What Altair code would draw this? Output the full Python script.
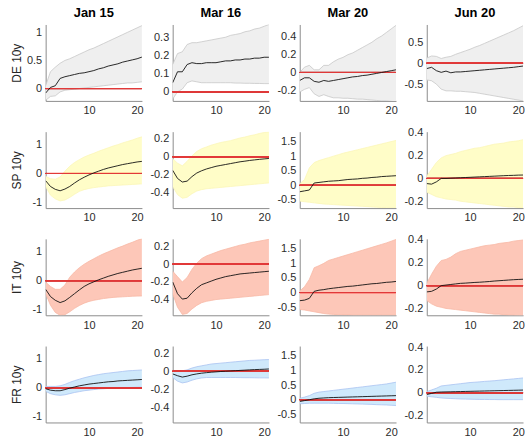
import altair as alt
import pandas as pd

H = list(range(1, 22))
DATES = ["Jan 15", "Mar 16", "Mar 20", "Jun 20"]
COUNTRIES = ["DE 10y", "SP 10y", "IT 10y", "FR 10y"]

# ---------------- DE 10y ----------------
DE_JAN15_MID = [-0.08, 0.02, 0.05, 0.18, 0.21, 0.23, 0.25, 0.27, 0.28, 0.30, 0.32, 0.35, 0.37, 0.40, 0.42, 0.44, 0.47, 0.49, 0.51, 0.53, 0.56]
DE_JAN15_HI = [0.05, 0.30, 0.38, 0.45, 0.50, 0.53, 0.57, 0.61, 0.65, 0.69, 0.72, 0.76, 0.80, 0.84, 0.88, 0.92, 0.96, 1.00, 1.04, 1.08, 1.12]
DE_JAN15_LO = [-0.21, -0.14, -0.13, -0.06, -0.03, -0.02, -0.01, 0.0, 0.01, 0.02, 0.03, 0.04, 0.05, 0.06, 0.07, 0.08, 0.09, 0.10, 0.10, 0.11, 0.12]

DE_MAR16_MID = [0.05, 0.11, 0.11, 0.15, 0.16, 0.155, 0.155, 0.16, 0.16, 0.16, 0.165, 0.17, 0.17, 0.175, 0.175, 0.18, 0.18, 0.185, 0.185, 0.19, 0.19]
DE_MAR16_HI = [0.15, 0.21, 0.22, 0.26, 0.27, 0.27, 0.275, 0.28, 0.285, 0.29, 0.295, 0.30, 0.31, 0.315, 0.32, 0.33, 0.335, 0.345, 0.35, 0.36, 0.37]
DE_MAR16_LO = [-0.04, 0.0, 0.015, 0.05, 0.06, 0.055, 0.05, 0.05, 0.05, 0.05, 0.05, 0.05, 0.05, 0.048, 0.048, 0.047, 0.047, 0.046, 0.046, 0.045, 0.045]

DE_MAR20_MID = [-0.09, -0.06, -0.06, -0.10, -0.11, -0.09, -0.10, -0.09, -0.08, -0.07, -0.06, -0.05, -0.045, -0.035, -0.03, -0.02, -0.01, 0.0, 0.01, 0.02, 0.03]
DE_MAR20_HI = [0.0, 0.06, 0.08, 0.03, 0.03, 0.08, 0.08, 0.12, 0.15, 0.17, 0.20, 0.22, 0.25, 0.28, 0.31, 0.34, 0.38, 0.41, 0.45, 0.49, 0.53]
DE_MAR20_LO = [-0.22, -0.19, -0.17, -0.24, -0.27, -0.25, -0.27, -0.285, -0.285, -0.29, -0.29, -0.295, -0.30, -0.30, -0.305, -0.31, -0.315, -0.32, -0.32, -0.325, -0.33]

DE_JUN20_MID = [-0.13, -0.10, -0.18, -0.22, -0.19, -0.23, -0.21, -0.21, -0.20, -0.19, -0.18, -0.17, -0.16, -0.15, -0.14, -0.13, -0.12, -0.11, -0.10, -0.085, -0.07]
DE_JUN20_HI = [0.12, 0.17, 0.16, 0.11, 0.14, 0.16, 0.21, 0.25, 0.29, 0.33, 0.38, 0.42, 0.47, 0.52, 0.57, 0.62, 0.67, 0.72, 0.77, 0.83, 0.89]
DE_JUN20_LO = [-0.40, -0.42, -0.50, -0.62, -0.66, -0.66, -0.67, -0.67, -0.68, -0.69, -0.70, -0.72, -0.74, -0.76, -0.78, -0.80, -0.82, -0.84, -0.86, -0.88, -0.90]

# ---------------- SP 10y ----------------
SP_JAN15_MID = [-0.25, -0.45, -0.55, -0.60, -0.54, -0.45, -0.33, -0.22, -0.13, -0.05, 0.02, 0.08, 0.14, 0.19, 0.23, 0.27, 0.31, 0.34, 0.37, 0.40, 0.42]
SP_JAN15_HI = [-0.10, -0.18, -0.20, -0.12, 0.08, 0.25, 0.38, 0.48, 0.57, 0.64, 0.70, 0.77, 0.83, 0.89, 0.95, 1.00, 1.06, 1.11, 1.16, 1.22, 1.27]
SP_JAN15_LO = [-0.45, -0.75, -0.88, -0.95, -0.92, -0.83, -0.72, -0.62, -0.56, -0.52, -0.49, -0.47, -0.45, -0.43, -0.42, -0.41, -0.40, -0.39, -0.38, -0.37, -0.36]

SP_MAR16_MID = [-0.15, -0.24, -0.28, -0.27, -0.22, -0.18, -0.155, -0.135, -0.12, -0.105, -0.095, -0.085, -0.075, -0.065, -0.055, -0.048, -0.04, -0.034, -0.028, -0.023, -0.018]
SP_MAR16_HI = [-0.02, -0.07, -0.10, -0.05, 0.01, 0.06, 0.09, 0.11, 0.13, 0.145, 0.16, 0.17, 0.18, 0.195, 0.21, 0.22, 0.235, 0.245, 0.26, 0.27, 0.28]
SP_MAR16_LO = [-0.33, -0.42, -0.46, -0.45, -0.41, -0.38, -0.365, -0.355, -0.35, -0.345, -0.34, -0.335, -0.33, -0.325, -0.32, -0.315, -0.31, -0.305, -0.30, -0.295, -0.29]

SP_MAR20_MID = [-0.22, -0.19, -0.16, 0.08, 0.10, 0.12, 0.14, 0.15, 0.16, 0.18, 0.20, 0.21, 0.22, 0.24, 0.25, 0.27, 0.28, 0.30, 0.31, 0.32, 0.33]
SP_MAR20_HI = [0.05, 0.20, 0.60, 0.78, 0.85, 0.90, 0.95, 1.00, 1.05, 1.10, 1.14, 1.18, 1.22, 1.26, 1.30, 1.34, 1.38, 1.42, 1.46, 1.50, 1.54]
SP_MAR20_LO = [-0.54, -0.56, -0.58, -0.60, -0.62, -0.64, -0.65, -0.66, -0.67, -0.68, -0.69, -0.70, -0.71, -0.72, -0.73, -0.74, -0.75, -0.76, -0.76, -0.77, -0.78]

SP_JUN20_MID = [-0.045, -0.05, -0.03, 0.0, 0.0, 0.002, 0.004, 0.006, 0.008, 0.01, 0.012, 0.014, 0.016, 0.018, 0.02, 0.022, 0.024, 0.026, 0.027, 0.029, 0.03]
SP_JUN20_HI = [0.02, 0.08, 0.14, 0.18, 0.20, 0.21, 0.22, 0.235, 0.245, 0.255, 0.265, 0.27, 0.28, 0.29, 0.30, 0.305, 0.31, 0.32, 0.325, 0.33, 0.34]
SP_JUN20_LO = [-0.12, -0.14, -0.16, -0.17, -0.18, -0.185, -0.19, -0.20, -0.205, -0.21, -0.215, -0.22, -0.225, -0.23, -0.235, -0.24, -0.245, -0.25, -0.25, -0.255, -0.26]

# ---------------- IT 10y ----------------
IT_JAN15_MID = [-0.30, -0.55, -0.68, -0.76, -0.70, -0.58, -0.45, -0.32, -0.20, -0.11, -0.04, 0.03, 0.09, 0.15, 0.20, 0.25, 0.29, 0.33, 0.37, 0.40, 0.43]
IT_JAN15_HI = [-0.05, -0.20, -0.30, -0.30, -0.15, 0.12, 0.30, 0.45, 0.57, 0.67, 0.76, 0.85, 0.93, 1.00, 1.07, 1.14, 1.20, 1.27, 1.33, 1.40, 1.46]
IT_JAN15_LO = [-0.45, -0.85, -1.10, -1.20, -1.18, -1.08, -0.96, -0.86, -0.78, -0.72, -0.68, -0.65, -0.62, -0.60, -0.58, -0.57, -0.56, -0.55, -0.54, -0.535, -0.53]

IT_MAR16_MID = [-0.20, -0.33, -0.39, -0.38, -0.32, -0.27, -0.23, -0.21, -0.19, -0.17, -0.155, -0.14, -0.13, -0.12, -0.11, -0.105, -0.10, -0.095, -0.09, -0.085, -0.08]
IT_MAR16_HI = [-0.08, -0.14, -0.20, -0.15, -0.06, 0.01, 0.06, 0.09, 0.11, 0.13, 0.15, 0.165, 0.18, 0.195, 0.21, 0.22, 0.235, 0.245, 0.255, 0.265, 0.275]
IT_MAR16_LO = [-0.33, -0.48, -0.56, -0.55, -0.50, -0.46, -0.43, -0.415, -0.405, -0.395, -0.39, -0.385, -0.38, -0.375, -0.37, -0.365, -0.36, -0.355, -0.35, -0.345, -0.34]

IT_MAR20_MID = [-0.28, -0.26, -0.20, 0.04, 0.08, 0.10, 0.13, 0.15, 0.17, 0.19, 0.21, 0.22, 0.24, 0.26, 0.28, 0.30, 0.31, 0.33, 0.35, 0.36, 0.38]
IT_MAR20_HI = [0.05, 0.20, 0.45, 0.85, 0.92, 1.00, 1.10, 1.15, 1.20, 1.25, 1.30, 1.35, 1.40, 1.45, 1.50, 1.55, 1.60, 1.65, 1.70, 1.76, 1.82]
IT_MAR20_LO = [-0.58, -0.60, -0.63, -0.66, -0.69, -0.72, -0.74, -0.75, -0.76, -0.77, -0.77, -0.78, -0.78, -0.78, -0.78, -0.78, -0.78, -0.78, -0.78, -0.78, -0.78]

IT_JUN20_MID = [-0.055, -0.05, -0.03, 0.0, 0.005, 0.01, 0.015, 0.02, 0.022, 0.025, 0.028, 0.03, 0.033, 0.036, 0.04, 0.043, 0.046, 0.049, 0.052, 0.054, 0.056]
IT_JUN20_HI = [0.02, 0.10, 0.17, 0.22, 0.23, 0.25, 0.28, 0.30, 0.31, 0.32, 0.33, 0.34, 0.35, 0.355, 0.36, 0.37, 0.375, 0.38, 0.39, 0.395, 0.40]
IT_JUN20_LO = [-0.13, -0.16, -0.18, -0.19, -0.20, -0.205, -0.21, -0.215, -0.22, -0.225, -0.23, -0.235, -0.24, -0.245, -0.25, -0.25, -0.255, -0.26, -0.26, -0.265, -0.27]

# ---------------- FR 10y ----------------
FR_JAN15_MID = [-0.03, -0.08, -0.10, -0.10, -0.06, -0.01, 0.03, 0.07, 0.10, 0.13, 0.15, 0.17, 0.19, 0.21, 0.22, 0.24, 0.25, 0.26, 0.27, 0.28, 0.29]
FR_JAN15_HI = [0.05, 0.05, 0.05, 0.07, 0.12, 0.19, 0.25, 0.30, 0.35, 0.39, 0.43, 0.46, 0.49, 0.51, 0.53, 0.55, 0.57, 0.59, 0.60, 0.61, 0.62]
FR_JAN15_LO = [-0.12, -0.20, -0.24, -0.26, -0.24, -0.20, -0.16, -0.13, -0.10, -0.08, -0.06, -0.04, -0.03, -0.02, -0.01, 0.0, 0.005, 0.01, 0.015, 0.02, 0.02]

FR_MAR16_MID = [-0.03, -0.05, -0.065, -0.055, -0.04, -0.03, -0.022, -0.016, -0.011, -0.007, -0.003, 0.0, 0.003, 0.006, 0.009, 0.012, 0.015, 0.018, 0.02, 0.022, 0.025]
FR_MAR16_HI = [0.005, 0.005, 0.005, 0.015, 0.035, 0.05, 0.06, 0.07, 0.08, 0.085, 0.09, 0.095, 0.10, 0.105, 0.11, 0.115, 0.12, 0.122, 0.125, 0.128, 0.13]
FR_MAR16_LO = [-0.07, -0.11, -0.13, -0.12, -0.10, -0.085, -0.075, -0.07, -0.07, -0.07, -0.07, -0.07, -0.07, -0.07, -0.071, -0.072, -0.072, -0.073, -0.074, -0.074, -0.075]

FR_MAR20_MID = [-0.06, -0.03, 0.0, 0.03, 0.05, 0.06, 0.07, 0.075, 0.08, 0.085, 0.09, 0.095, 0.10, 0.105, 0.11, 0.115, 0.12, 0.125, 0.13, 0.135, 0.14]
FR_MAR20_HI = [0.05, 0.09, 0.14, 0.22, 0.26, 0.28, 0.30, 0.32, 0.34, 0.36, 0.38, 0.40, 0.42, 0.44, 0.46, 0.48, 0.50, 0.52, 0.54, 0.57, 0.60]
FR_MAR20_LO = [-0.14, -0.13, -0.12, -0.12, -0.12, -0.12, -0.12, -0.125, -0.13, -0.13, -0.135, -0.14, -0.145, -0.15, -0.155, -0.16, -0.17, -0.175, -0.18, -0.19, -0.20]

FR_JUN20_MID = [-0.015, -0.005, 0.005, 0.007, 0.008, 0.009, 0.01, 0.011, 0.012, 0.013, 0.014, 0.015, 0.016, 0.017, 0.018, 0.019, 0.02, 0.021, 0.022, 0.023, 0.024]
FR_JUN20_HI = [0.01, 0.025, 0.04, 0.06, 0.065, 0.07, 0.075, 0.08, 0.085, 0.09, 0.093, 0.096, 0.10, 0.103, 0.106, 0.11, 0.114, 0.118, 0.122, 0.126, 0.13]
FR_JUN20_LO = [-0.03, -0.035, -0.04, -0.045, -0.048, -0.05, -0.052, -0.054, -0.055, -0.056, -0.057, -0.058, -0.058, -0.059, -0.059, -0.06, -0.06, -0.06, -0.06, -0.06, -0.06]

SERIES = {
    ("DE 10y", "Jan 15"): (DE_JAN15_LO, DE_JAN15_MID, DE_JAN15_HI),
    ("DE 10y", "Mar 16"): (DE_MAR16_LO, DE_MAR16_MID, DE_MAR16_HI),
    ("DE 10y", "Mar 20"): (DE_MAR20_LO, DE_MAR20_MID, DE_MAR20_HI),
    ("DE 10y", "Jun 20"): (DE_JUN20_LO, DE_JUN20_MID, DE_JUN20_HI),
    ("SP 10y", "Jan 15"): (SP_JAN15_LO, SP_JAN15_MID, SP_JAN15_HI),
    ("SP 10y", "Mar 16"): (SP_MAR16_LO, SP_MAR16_MID, SP_MAR16_HI),
    ("SP 10y", "Mar 20"): (SP_MAR20_LO, SP_MAR20_MID, SP_MAR20_HI),
    ("SP 10y", "Jun 20"): (SP_JUN20_LO, SP_JUN20_MID, SP_JUN20_HI),
    ("IT 10y", "Jan 15"): (IT_JAN15_LO, IT_JAN15_MID, IT_JAN15_HI),
    ("IT 10y", "Mar 16"): (IT_MAR16_LO, IT_MAR16_MID, IT_MAR16_HI),
    ("IT 10y", "Mar 20"): (IT_MAR20_LO, IT_MAR20_MID, IT_MAR20_HI),
    ("IT 10y", "Jun 20"): (IT_JUN20_LO, IT_JUN20_MID, IT_JUN20_HI),
    ("FR 10y", "Jan 15"): (FR_JAN15_LO, FR_JAN15_MID, FR_JAN15_HI),
    ("FR 10y", "Mar 16"): (FR_MAR16_LO, FR_MAR16_MID, FR_MAR16_HI),
    ("FR 10y", "Mar 20"): (FR_MAR20_LO, FR_MAR20_MID, FR_MAR20_HI),
    ("FR 10y", "Jun 20"): (FR_JUN20_LO, FR_JUN20_MID, FR_JUN20_HI),
}

# y-axis domains and tick values
ROW1_DOMAINS = {"Jan 15": [-0.22, 1.14], "Mar 16": [-0.05, 0.37], "Mar 20": [-0.32, 0.54], "Jun 20": [-0.9, 0.92]}
ROW1_TICKS = {"Jan 15": [0, 0.5, 1], "Mar 16": [0, 0.1, 0.2, 0.3], "Mar 20": [-0.2, 0, 0.2, 0.4], "Jun 20": [-0.5, 0, 0.5]}
REST_DOMAINS = {"Jan 15": [-1.2, 1.45], "Mar 16": [-0.57, 0.28], "Mar 20": [-0.78, 1.84], "Jun 20": [-0.26, 0.41]}
REST_TICKS = {"Jan 15": [-1, 0, 1], "Mar 16": [-0.4, -0.2, 0, 0.2], "Mar 20": [-0.5, 0, 0.5, 1, 1.5], "Jun 20": [-0.2, 0, 0.2, 0.4]}
X_TICKS = [10, 20]

FILL = {"DE 10y": "#efefef", "SP 10y": "#fffdc8", "IT 10y": "#fdc7b8", "FR 10y": "#cfe9fb"}
EDGE = {"DE 10y": "#c8c8c8", "SP 10y": "#fbf6b8", "IT 10y": "#f7b8a6", "FR 10y": "#a9c3f1"}

FONT = "Liberation Sans"
W, HGT = 97, 77

panels = []
for ri, country in enumerate(COUNTRIES):
    for ci, date in enumerate(DATES):
        lo, mid, hi = SERIES[(country, date)]
        df = pd.DataFrame({"h": H, "lo": lo, "mid": mid, "hi": hi})
        dom = ROW1_DOMAINS[date] if ri == 0 else REST_DOMAINS[date]
        ticks = ROW1_TICKS[date] if ri == 0 else REST_TICKS[date]
        xs = alt.Scale(domain=[1, 21], nice=False, zero=False)
        ys = alt.Scale(domain=dom, nice=False, zero=False)
        yaxis_kwargs = dict(values=ticks, labelExpr="'' + datum.value", grid=False, ticks=False,
                            tickCount=len(ticks),
                            domainColor="#8c8c8c", labelOverlap=False, labelFlush=False,
                            labelSeparation=0,
                            labelColor="#2b2b2b", labelFont=FONT, labelFontSize=11,
                            labelPadding=4)
        if ci == 0:
            yaxis_kwargs.update(title=country, titleFont=FONT, titleFontSize=12,
                                titleFontWeight="normal", titleColor="#262626",
                                titleX=-22, titleY=HGT / 2, titleAngle=270,
                                titleBaseline="bottom", titleAlign="center")
        else:
            yaxis_kwargs.update(title=None)
        yaxis = alt.Axis(**yaxis_kwargs)
        xaxis = alt.Axis(values=X_TICKS, labelExpr="'' + datum.value", grid=False, ticks=False,
                         domainColor="#8c8c8c",
                         labelOverlap=False, labelFlush=False,
                         labelColor="#2b2b2b", labelFont=FONT, labelFontSize=11,
                         labelPadding=4, title=None)
        X = alt.X("h:Q", scale=xs, axis=xaxis)
        base = alt.Chart(df)
        band = base.mark_area(color=FILL[country], opacity=1, clip=True).encode(
            x=X, y=alt.Y("lo:Q", scale=ys, axis=yaxis), y2="hi:Q")
        edge_hi = base.mark_line(color=EDGE[country], strokeWidth=0.8, clip=True).encode(
            x=X, y=alt.Y("hi:Q", scale=ys, axis=yaxis))
        edge_lo = base.mark_line(color=EDGE[country], strokeWidth=0.8, clip=True).encode(
            x=X, y=alt.Y("lo:Q", scale=ys, axis=yaxis))
        zero = base.mark_rule(color="#e03a3a", strokeWidth=0.9, opacity=0.8).encode(
            y=alt.Y(datum=0, scale=ys, axis=yaxis))
        line = base.mark_line(color="#111111", strokeWidth=0.9, clip=True).encode(
            x=X, y=alt.Y("mid:Q", scale=ys, axis=yaxis))
        layer = alt.layer(band, edge_hi, edge_lo, zero, line).properties(width=W, height=HGT)
        if ri == 0:
            layer = layer.properties(title=alt.TitleParams(
                date, font=FONT, fontSize=13, fontWeight="bold", color="#000000",
                anchor="middle", frame="group", offset=5))
        panels.append(layer)

chart = alt.concat(*panels, columns=4, spacing=31, bounds="flush").properties(
    padding={"left": 11, "top": 5, "right": 2, "bottom": 2}
).configure_view(stroke=None)

chart.save("out.html", embed_options={"renderer": "svg", "actions": False})
